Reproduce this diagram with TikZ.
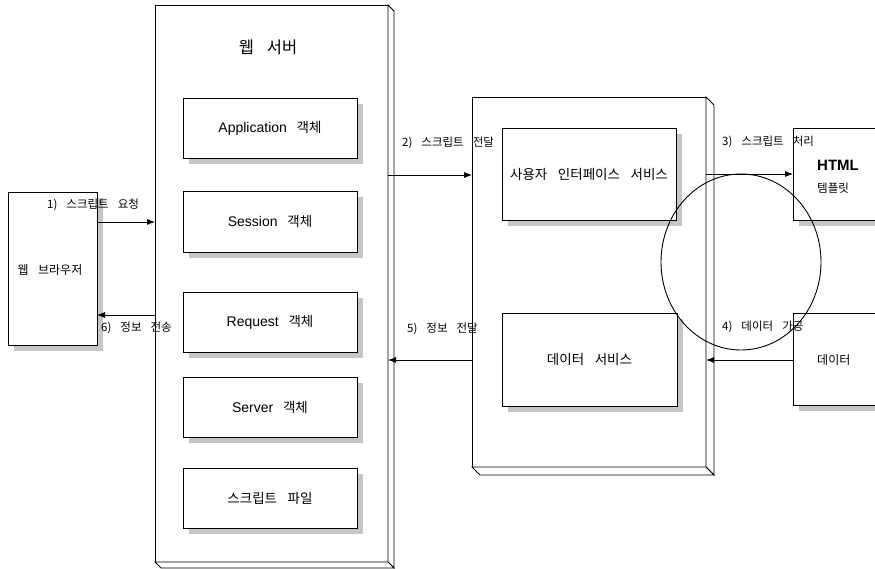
\documentclass[tikz,border=0pt]{standalone}
\usepackage{fontspec}
\setmainfont{Liberation Sans}[WordSpace=2.5]
\newfontfamily\kr[WordSpace=3.5]{Noto Sans CJK KR}
\usetikzlibrary{arrows.meta,shadows,shapes.geometric}

\newcommand\lblfont{\kr\fontsize{11.5}{13}\selectfont}
\newcommand\latfont{\fontsize{14}{16}\selectfont}
\newcommand\hanfont{\kr\fontsize{13.5}{15}\selectfont}

\tikzset{
  frame/.style={draw=black, line width=0.9pt, fill=white},
  panel/.style={frame, anchor=north west, inner sep=0pt, outer sep=0pt},
  objbox/.style={panel, drop shadow={shadow xshift=6pt, shadow yshift=-6pt, fill=gray!45, opacity=1}},
  msg/.style={line width=0.8pt, -{Latex[length=8pt,width=6pt]}},
  lbl/.style={anchor=west, inner sep=0pt, font=\lblfont},
}

\begin{document}
\begin{tikzpicture}[x=1pt, y=-1pt]
\useasboundingbox (0,0) rectangle (875,568);

% web browser
\node[objbox, minimum width=89, minimum height=153] (browser) at (8,192) {};
\node[font=\kr\fontsize{12}{14}\selectfont] (browsert) at (50,270) {웹 브라우저};

% web server slab
\node[panel, minimum width=233, minimum height=557] (server) at (155,5) {};
\draw[frame] (server.north east) -- ++(6,6) -- ([shift={(6,6)}]server.south east) -- (server.south east) -- cycle;
\draw[frame] (server.south west) -- ++(6,6) -- ([shift={(6,6)}]server.south east) -- (server.south east) -- cycle;
\node[font=\kr\fontsize{16.5}{18}\selectfont] (servert) at (268,47) {웹 서버};

\node[objbox, minimum width=174, minimum height=60] (app) at (183,98)
  {\latfont Application {\hanfont 객체}};
\node[objbox, minimum width=174, minimum height=61] (sess) at (183,191)
  {\latfont Session {\hanfont 객체}};
\node[objbox, minimum width=174, minimum height=60] (req) at (183,292)
  {\latfont Request {\hanfont 객체}};
\node[objbox, minimum width=174, minimum height=60] (srv) at (183,377)
  {\latfont Server {\hanfont 객체}};
\node[objbox, minimum width=174, minimum height=60] (file) at (183,468)
  {\kr\fontsize{13.5}{15}\selectfont 스크립트 파일};

% service slab
\node[panel, minimum width=234, minimum height=370] (svc) at (472,97) {};
\draw[frame] (svc.north east) -- ++(8,8) -- ([shift={(8,8)}]svc.south east) -- (svc.south east) -- cycle;
\draw[frame] (svc.south west) -- ++(8,8) -- ([shift={(8,8)}]svc.south east) -- (svc.south east) -- cycle;

\node[objbox, minimum width=174, minimum height=92] (ui) at (502,128)
  {\kr\fontsize{13.5}{15}\selectfont 사용자 인터페이스 서비스};
\node[objbox, minimum width=175, minimum height=93] (dsvc) at (502,313)
  {\kr\fontsize{13.5}{15}\selectfont 데이터 서비스};

% resources on the right
\node[objbox, minimum width=110, minimum height=92] (html) at (793,128) {};
\node[anchor=west, inner sep=0pt, font=\fontsize{15}{17}\selectfont\bfseries] (htmlt) at (817,165) {HTML};
\node[anchor=west, inner sep=0pt, font=\kr\fontsize{11.5}{13}\selectfont] (tmplt) at (817,188) {템플릿};
\node[objbox, minimum width=110, minimum height=92] (data) at (793,313) {};
\node[anchor=west, inner sep=0pt, font=\kr\fontsize{12}{14}\selectfont] (datat) at (817,360) {데이터};

% messages
\draw[msg] (browser.east |- 0,222) -- (server.west |- 0,222);
\node[lbl] (l1) at (47,205) {1) 스크립트 요청};
\draw[msg] (server.west |- 0,315) -- (browser.east |- 0,315);
\node[lbl] (l6) at (101,328) {6) 정보 전송};

\draw[msg] (server.east |- 0,175) -- (svc.west |- 0,175);
\node[lbl] (l2) at (402,143) {2) 스크립트 전달};
\draw[msg] (svc.west |- 0,360) -- (server.east |- 0,360);
\node[lbl] (l5) at (407,329) {5) 정보 전달};

\draw[msg] (svc.east |- 0,174) -- (html.west |- 0,174);
\node[lbl] (l3) at (722,142) {3) 스크립트 처리};
\draw[msg] (data.west |- 0,360) -- (svc.east |- 0,360);
\node[lbl] (l4) at (722,327) {4) 데이터 가공};

% highlight ring
\node[draw, ellipse, line width=0.9pt, minimum width=160, minimum height=176, inner sep=0pt] (ring) at (741,262) {};
\end{tikzpicture}
\end{document}
